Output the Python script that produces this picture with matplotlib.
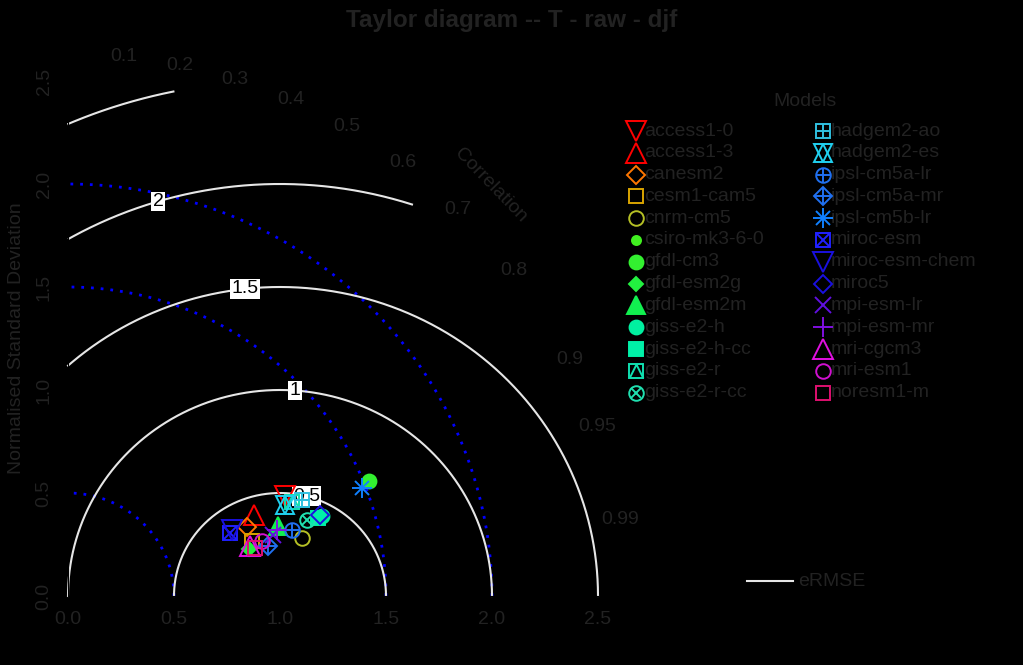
import numpy as np
import matplotlib
matplotlib.use("Agg")
import matplotlib.pyplot as plt
from matplotlib.path import Path

plt.rcParams["font.family"] = ["Liberation Sans", "DejaVu Sans"]

# ---- data -------------------------------------------------------------
models = ["access1-0", "access1-3", "canesm2", "cesm1-cam5", "cnrm-cm5",
          "csiro-mk3-6-0", "gfdl-cm3", "gfdl-esm2g", "gfdl-esm2m", "giss-e2-h",
          "giss-e2-h-cc", "giss-e2-r", "giss-e2-r-cc", "hadgem2-ao", "hadgem2-es",
          "ipsl-cm5a-lr", "ipsl-cm5a-mr", "ipsl-cm5b-lr", "miroc-esm",
          "miroc-esm-chem", "miroc5", "mpi-esm-lr", "mpi-esm-mr", "mri-cgcm3",
          "mri-esm1", "noresm1-m"]

# normalised standard deviation and correlation of each model
sd = [1.133, 0.961, 0.908, 0.908, 1.139, 1.513, 1.526, 0.884, 1.048, 1.259,
      1.238, 1.151, 1.186, 1.198, 1.115, 1.104, 0.974, 1.483, 0.823, 0.837,
      1.252, 1.011, 1.037, 0.892, 0.953, 0.912]
cor = [0.904, 0.913, 0.929, 0.956, 0.969, 0.932, 0.931, 0.966, 0.946, 0.951,
       0.952, 0.918, 0.950, 0.921, 0.918, 0.957, 0.968, 0.935, 0.928, 0.924,
       0.949, 0.956, 0.951, 0.962, 0.960, 0.967]

# R style symbol codes
pch = [6, 2, 5, 0, 1, 20, 19, 18, 17, 16, 15, 14, 13, 12, 11, 10, 9, 8, 7,
       6, 5, 4, 3, 2, 1, 0]

colors = ["#ff0000", "#ff0000", "#ff7700", "#d9a400", "#b5c025", "#40f020",
          "#33f030", "#22f040", "#11f050", "#00f0a0", "#00f0a8", "#10e0b0",
          "#20e0b0", "#30c0e0", "#20d0f0", "#2070f0", "#2070f0", "#1080ff",
          "#2020ff", "#1a10e0", "#1a10e0", "#6010e0", "#8010e0", "#e010e0",
          "#d010d0", "#e01070"]

cor_ticks = [0.1, 0.2, 0.3, 0.4, 0.5, 0.6, 0.7, 0.8, 0.9, 0.95, 0.99]
sd_dotted = [0.5, 1.5, 2.0]
rmse_arcs = [0.5, 1.0, 1.5, 2.0, 2.5]
rmse_labels = ["0.5", "1", "1.5", "2"]
rmse_label_angle = [75.5, 85.9, 96.3, 106.7]
axis_ticks = [0.0, 0.5, 1.0, 1.5, 2.0, 2.5]
rmax = 2.5

txt = "#222222"
fs = 14

tri = Path([(-1, -1), (0, 1), (1, -1)],
           [Path.MOVETO, Path.LINETO, Path.LINETO])

layers = {
    0: [("s", 10, False)],
    1: [("o", 10.5, False)],
    2: [("^", 15, False)],
    3: [("+", 15, False)],
    4: [("x", 11, False)],
    5: [("D", 9.5, False)],
    6: [("v", 15, False)],
    7: [("s", 10, False), ("x", 10, False)],
    8: [("+", 14, False), ("x", 10, False)],
    9: [("D", 9.5, False), ("+", 13.4, False)],
    10: [("o", 10.5, False), ("+", 10.5, False)],
    11: [("^", 13, False), ("v", 13, False)],
    12: [("s", 10, False), ("+", 10, False)],
    13: [("o", 10.5, False), ("x", 7.4, False)],
    14: [("s", 10, False), (tri, 10, False)],
    15: [("s", 9.5, True)],
    16: [("o", 10, True)],
    17: [("^", 12.5, True)],
    18: [("D", 7, True)],
    19: [("o", 10, True)],
    20: [("o", 6.5, True)],
}


def draw_symbol(ax, x, y, p, col, z=4):
    for m, s, filled in layers[p]:
        ax.plot(x, y, linestyle="none", marker=m, markersize=s,
                markeredgecolor=col, markeredgewidth=1.4,
                markerfacecolor=col if filled else "none", zorder=z,
                clip_on=False)


fig = plt.figure(figsize=(10.23, 6.65), dpi=100, facecolor="black")
ax = fig.add_axes([68 / 1023, 69 / 665, 530 / 1023, 515 / 665])
ax.set_facecolor("black")
ax.set_xlim(0, rmax)
ax.set_ylim(0, rmax)
for s in ["top", "right"]:
    ax.spines[s].set_visible(False)
for s in ["left", "bottom"]:
    ax.spines[s].set_color("black")
ax.set_xticks(axis_ticks)
ax.set_yticks(axis_ticks)
ax.set_xticklabels([f"{v:.1f}" for v in axis_ticks])
ax.set_yticklabels([f"{v:.1f}" for v in axis_ticks], rotation=90, va="center")
ax.tick_params(colors="black", labelcolor=txt, labelsize=fs, length=6, pad=5)
ax.set_ylabel("Normalised Standard Deviation", color=txt, fontsize=fs, labelpad=8)

# standard deviation arcs (blue dotted)
th = np.linspace(0, np.pi / 2, 300)
for r in sd_dotted:
    ax.plot(r * np.cos(th), r * np.sin(th), color="#0000ff",
            linestyle=(0, (1, 2.5)), lw=2, clip_on=False)

# centred RMSE arcs around the reference point (1, 0)
t = np.linspace(0, np.pi, 800)
for r in rmse_arcs:
    xs = 1 + r * np.cos(t)
    ys = r * np.sin(t)
    ok = (xs >= 0) & (np.hypot(xs, ys) <= rmax)
    ax.plot(np.where(ok, xs, np.nan), np.where(ok, ys, np.nan),
            color="#e6e6e6", lw=1.5, clip_on=False)

for lab, r, a in zip(rmse_labels, rmse_arcs, rmse_label_angle):
    a = np.deg2rad(a)
    ax.text(1 + r * np.cos(a), r * np.sin(a), lab, fontsize=fs, color="black",
            ha="center", va="center", zorder=3,
            bbox=dict(facecolor="white", edgecolor="none", pad=1.0))

# correlation labels
for c in cor_ticks:
    a = np.arccos(c)
    ax.text(2.63 * np.cos(a), 2.63 * np.sin(a), f"{c:g}", fontsize=fs,
            color=txt, ha="center", va="center", clip_on=False)
ax.text(2.82 * np.cos(np.pi / 4), 2.82 * np.sin(np.pi / 4), "Correlation",
        fontsize=fs, color=txt, rotation=-46, ha="center", va="center",
        rotation_mode="anchor", clip_on=False)

# model points
for s_, c_, p, col in zip(sd, cor, pch, colors):
    draw_symbol(ax, s_ * c_, s_ * np.sqrt(1 - c_ ** 2), p, col)

fig.text(0.5, 1 - 20 / 665, "Taylor diagram -- T - raw - djf", fontsize=17.5,
         fontweight="bold", color=txt, ha="center", va="center")

# legend drawn in pixel coordinates
lax = fig.add_axes([0, 0, 1, 1])
lax.set_xlim(0, 1023)
lax.set_ylim(665, 0)
lax.axis("off")
lax.text(805, 102, "Models", fontsize=fs, color=txt, ha="center", va="center")
for i, (name, p, col) in enumerate(zip(models, pch, colors)):
    cx = 636 if i < 13 else 823
    cy = 131 + (i % 13) * 21.8
    draw_symbol(lax, cx, cy, p, col)
    lax.text(cx + 8, cy, name, fontsize=fs, color=txt, ha="left", va="center")

lax.plot([747, 793], [581, 581], color="#e6e6e6", lw=1.5)
lax.text(798, 581, "eRMSE", fontsize=fs, color=txt, ha="left", va="center")

fig.savefig("out.png", dpi=100, facecolor="black")
